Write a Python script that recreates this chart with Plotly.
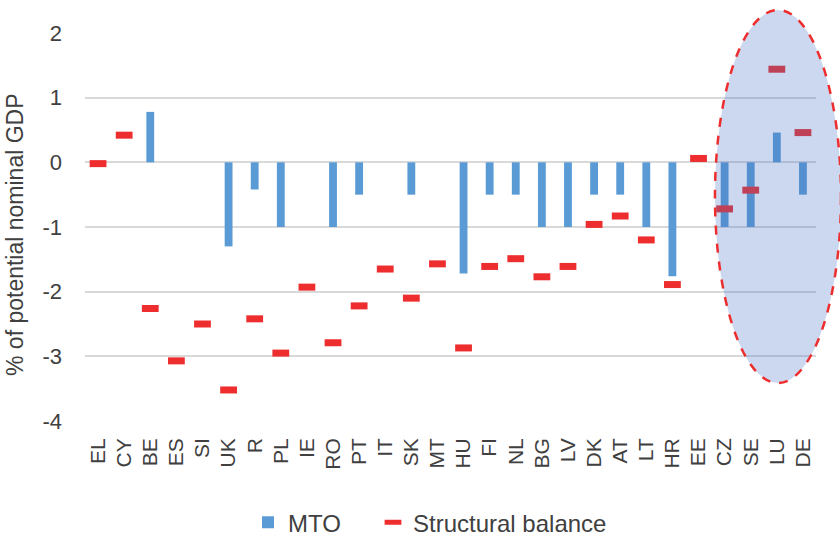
import plotly.graph_objects as go

countries = ["EL", "CY", "BE", "ES", "SI", "UK", "R", "PL", "IE", "RO", "PT", "IT", "SK", "MT",
             "HU", "FI", "NL", "BG", "LV", "DK", "AT", "LT", "HR", "EE", "CZ", "SE", "LU", "DE"]
mto = [None, None, 0.78, None, None, -1.3, -0.42, -1.0, None, -1.0, -0.5, None, -0.5, None,
       -1.72, -0.5, -0.5, -1.0, -1.0, -0.5, -0.5, -1.0, -1.76, None, -1.0, -1.0, 0.46, -0.5]
structural_balance = [-0.02, 0.42, -2.26, -3.07, -2.5, -3.52, -2.42, -2.95, -1.93, -2.79, -2.22, -1.65, -2.1, -1.57,
                      -2.87, -1.61, -1.49, -1.77, -1.61, -0.96, -0.83, -1.2, -1.89, 0.06, -0.72, -0.43, 1.44, 0.46]
y_ticks = [2, 1, 0, -1, -2, -3, -4]
y_tick_labels = ["2", "1", "0", "-1", "-2", "-3", "-4"]
y_title = "% of potential nominal GDP"

TXT = "#404040"
FONT = "Liberation Sans, Arial, sans-serif"

fig = go.Figure()
fig.add_trace(go.Bar(
    x=countries, y=mto, name="MTO", width=0.3, legend="legend",
    marker=dict(color="#5B9BD5", line=dict(width=0)),
))
fig.add_trace(go.Scatter(
    x=countries, y=structural_balance, name="Structural balance", mode="markers",
    legend="legend2",
    marker=dict(symbol="line-ew", size=12, color="#EE2E2E",
                line=dict(color="#EE2E2E", width=7)),
))

fig.add_shape(type="circle", xref="paper", yref="paper",
              x0=0.8618, x1=1.0342, y0=0.0979, y1=1.0593,
              fillcolor="rgba(68,114,196,0.28)",
              line=dict(color="#EE2E2E", width=2.5, dash="dash"),
              layer="above")

# y-axis title placed as rotated text
fig.add_annotation(text=y_title, textangle=-90, showarrow=False,
                   xref="paper", yref="paper", x=(15 - 85) / 731, y=(421 - 235) / 388,
                   xanchor="center", yanchor="middle",
                   font=dict(size=23, color=TXT, family=FONT))

legend_common = dict(orientation="h", y=-0.262, yanchor="middle", xanchor="left",
                     font=dict(size=24, color=TXT), itemwidth=30, bgcolor="rgba(0,0,0,0)")

fig.update_layout(
    width=840, height=538,
    margin=dict(l=85, r=24, t=33, b=117, autoexpand=False),
    paper_bgcolor="white", plot_bgcolor="white",
    font=dict(family=FONT, color=TXT, size=22),
    showlegend=True,
    legend=dict(x=(248 - 85) / 731, **legend_common),
    legend2=dict(x=(373 - 85) / 731, **legend_common),
    bargap=0.7,
)
fig.update_xaxes(
    type="category", range=[-0.5, len(countries) - 0.5],
    tickmode="array", tickvals=countries, ticktext=countries,
    tickangle=-90, showgrid=False, showline=False, ticks="",
    tickfont=dict(size=21, color=TXT), ticklabelstandoff=12, automargin=False,
)
fig.update_yaxes(
    range=[-4, 2], tickvals=y_ticks, ticktext=y_tick_labels,
    showgrid=True, gridcolor="#D9D9D9", gridwidth=1.5,
    zeroline=True, zerolinecolor="#D9D9D9", zerolinewidth=1.5, showline=False, ticks="",
    tickfont=dict(size=22, color=TXT), ticklabelstandoff=22, automargin=False,
)

fig.write_html("out.html", config={"displayModeBar": False},
               post_script="document.body.style.margin='0';document.body.style.overflow='hidden';")
